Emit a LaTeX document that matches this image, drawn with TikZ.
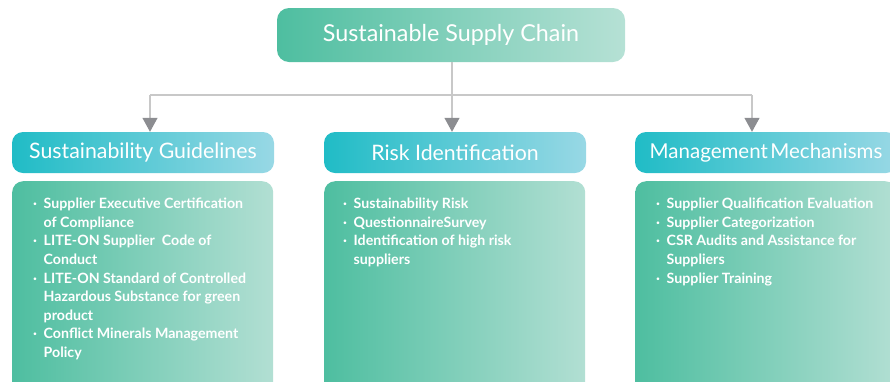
\documentclass[tikz,border=0pt]{standalone}
\usepackage{fontspec}
\setmainfont{Lato}
\usetikzlibrary{arrows.meta}
\definecolor{topL}{RGB}{78,190,160}
\definecolor{topR}{RGB}{182,225,213}
\definecolor{hdL}{RGB}{32,188,198}
\definecolor{hdR}{RGB}{152,216,229}
\definecolor{bxL}{RGB}{78,190,160}
\definecolor{bxR}{RGB}{178,223,211}
\definecolor{linegray}{RGB}{200,200,200}
\definecolor{arrowgray}{RGB}{140,141,145}
\tikzset{
  titlebox/.style={rounded corners=12pt,left color=topL,right color=topR,
    minimum width=348pt,minimum height=54pt,inner sep=0pt,text=white,
    font=\fontsize{23.3}{26}\selectfont},
  headbox/.style={rounded corners=11pt,left color=hdL,right color=hdR,
    minimum width=262pt,minimum height=41pt,inner sep=0pt,text=white,
    font=\fontsize{21.3}{24}\selectfont},
  contbox/.style={rounded corners=11pt,left color=bxL,right color=bxR,
    minimum width=261pt,minimum height=214pt,inner sep=0pt,anchor=north west},
  bullets/.style={anchor=north west,inner sep=0pt,text=white,align=left,
    font=\bfseries\fontsize{14.2}{18.6}\selectfont},
  conn/.style={draw=linegray,line width=1.3pt},
  arr/.style={conn,-{Triangle[width=15pt,length=14pt,color=arrowgray]}}
}
\newcommand\bl{\makebox[10.5pt][l]{·}}
\newcommand\ind{\hspace*{10.5pt}}
\begin{document}
\begin{tikzpicture}[x=1pt,y=-1pt]
\useasboundingbox (0,0) rectangle (890,381);
\clip (0,0) rectangle (890,381);
% title
\node[titlebox] (top) at (451,35) {\raisebox{-2pt}{Sustainable Supply Chain}};
% headers
\node[headbox] (h1) at (143,152.5) {\raisebox{-1pt}{Sustainability Guidelines}};
\node[headbox] (h2) at (455,152.5) {\raisebox{-1pt}{Risk Identification}};
\node[headbox,font=\fontsize{20.5}{24}\selectfont] (h3) at (766,152.5) {\raisebox{-1pt}{Management\hspace{2.5pt}Mechanisms}};
% content boxes
\node[contbox] (c1) at (12,181) {};
\node[contbox] (c2) at (324,181) {};
\node[contbox] (c3) at (635,181) {};
% bullet texts
\node[bullets] (t1) at ([xshift=21pt,yshift=-17pt]c1.north west) {%
\bl Supplier Executive Certification\\
\ind of Compliance\\
\bl LITE-ON Supplier\ \ Code of\\
\ind Conduct\\
\bl LITE-ON Standard of Controlled\\
\ind Hazardous Substance for green\\
\ind product\\
\bl Conflict Minerals Management\\
\ind Policy};
\node[bullets] (t2) at ([xshift=19pt,yshift=-17pt]c2.north west) {%
\bl Sustainability Risk\\
\bl QuestionnaireSurvey\\
\bl Identification of high risk\\
\ind suppliers};
\node[bullets] (t3) at ([xshift=21pt,yshift=-17pt]c3.north west) {%
\bl Supplier Qualification Evaluation\\
\bl Supplier Categorization\\
\bl CSR Audits and Assistance for\\
\ind Suppliers\\
\bl Supplier Training};
% connectors
\coordinate (jl) at (150,95);
\coordinate (jm) at (452,95);
\coordinate (jr) at (752,95);
\draw[conn] (jl) -- (jr);
\draw[arr] (top.south -| jm) -- (jm |- h2.north);
\draw[arr] (jl) -- (jl |- h1.north);
\draw[arr] (jr) -- (jr |- h3.north);
\end{tikzpicture}
\end{document}
